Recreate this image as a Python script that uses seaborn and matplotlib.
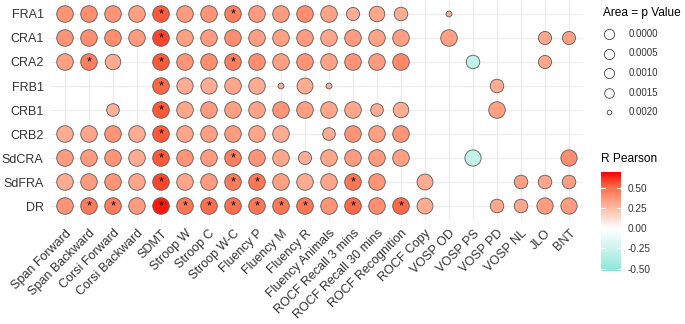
import numpy as np
import pandas as pd
import matplotlib
matplotlib.use("Agg")
import matplotlib.pyplot as plt
import seaborn as sns
from matplotlib.colors import LinearSegmentedColormap, Normalize
from matplotlib.cm import ScalarMappable

# rows (clusters) and columns (neuropsychological tests)
clusters = ["FRA1", "CRA1", "CRA2", "FRB1", "CRB1", "CRB2", "SdCRA", "SdFRA", "DR"]
tests = ["Span Forward", "Span Backward", "Corsi Forward", "Corsi Backward", "SDMT",
         "Stroop W", "Stroop C", "Stroop W-C", "Fluency P", "Fluency M", "Fluency R",
         "Fluency Animals", "ROCF Recall 3 mins", "ROCF Recall 30 mins", "ROCF Recognition",
         "ROCF Copy", "VOSP OD", "VOSP PS", "VOSP PD", "VOSP NL", "JLO", "BNT"]

n = np.nan
# Pearson r (nan = not drawn)
r_matrix = [
    [0.38, 0.40, 0.38, 0.34, 0.55, 0.36, 0.38, 0.45, 0.36, 0.36, 0.40, 0.33, 0.30, 0.32, 0.30, n, 0.30, n, n, n, n, n],
    [0.38, 0.40, 0.40, 0.36, 0.58, 0.34, 0.36, 0.40, 0.35, 0.34, 0.36, 0.32, 0.36, 0.33, 0.35, n, 0.34, n, n, n, 0.32, 0.34],
    [0.34, 0.45, 0.30, n, 0.55, 0.38, 0.40, 0.45, 0.40, 0.34, 0.38, 0.33, 0.38, 0.36, 0.42, n, n, -0.30, n, n, 0.32, n],
    [n, n, n, n, 0.52, 0.30, 0.30, 0.32, 0.30, 0.30, 0.30, 0.28, n, n, n, n, n, n, 0.30, n, n, n],
    [n, n, 0.28, n, 0.55, 0.32, 0.36, 0.34, 0.33, 0.38, 0.35, 0.32, 0.32, 0.30, 0.30, n, n, n, 0.34, n, n, n],
    [0.30, 0.32, 0.38, 0.30, 0.55, 0.32, 0.34, 0.36, 0.32, 0.30, n, 0.30, 0.38, 0.34, 0.38, n, n, n, n, n, n, n],
    [0.36, 0.36, 0.38, 0.30, 0.55, 0.38, 0.36, 0.45, 0.38, 0.32, 0.30, 0.32, 0.36, 0.36, 0.34, n, n, -0.28, n, n, n, 0.40],
    [0.30, 0.36, 0.38, 0.32, 0.58, 0.32, 0.36, 0.46, 0.48, 0.34, 0.30, 0.32, 0.48, 0.38, n, 0.30, n, n, n, 0.34, 0.32, 0.35],
    [0.38, 0.46, 0.46, 0.36, 0.66, 0.48, 0.50, 0.50, 0.48, 0.48, 0.48, 0.38, 0.52, 0.40, 0.52, 0.30, n, n, 0.32, 0.32, 0.36, 0.36],
]

# p values (area of circle, smaller p = bigger circle)
p_matrix = [
    [0.00001] * 12 + [0.0009, 0.0003, 0.0008, n, 0.0021, n, n, n, n, n],
    [0.00001] * 15 + [n, 0.00001, n, n, n, 0.0009, 0.0009],
    [0.00001, 0.00001, 0.0003, n] + [0.00001] * 11 + [n, n, 0.0008, n, n, 0.0009, n],
    [n, n, n, n, 0.00001, 0.0001, 0.0001, 0.00001, 0.00001, 0.0021, 0.0002, 0.0021, n, n, n, n, n, n, 0.0008, n, n, n],
    [n, n, 0.001, n] + [0.00001] * 9 + [0.001, 0.0003, n, n, n, 0.00001, n, n, n],
    [0.00001] * 10 + [n, 0.001, 0.00001, 0.00001, 0.00001, n, n, n, n, n, n, n],
    [0.00001] * 10 + [0.0009, 0.00001, 0.00001, 0.00001, 0.00001, n, n, 0.0001, n, n, n, 0.0001],
    [0.00001] * 14 + [n, 0.0002, n, n, n, 0.0008, 0.0008, 0.0008],
    [0.00001] * 15 + [0.0002, n, n, 0.0008, 0.0008, 0.0001, 0.0001],
]

# significance stars (column indices per row)
star_cols = [
    [4, 7],
    [4],
    [1, 4, 7],
    [4],
    [4],
    [4],
    [4, 7],
    [4, 7, 8, 12],
    [1, 2, 4, 5, 6, 7, 8, 9, 10, 12, 14],
]

p_breaks = [0.0000, 0.0005, 0.0010, 0.0015, 0.0020]
r_breaks = [-0.50, -0.25, 0.00, 0.25, 0.50]

# long table
rows = []
for i, cl in enumerate(clusters):
    for j, t in enumerate(tests):
        if not np.isnan(r_matrix[i][j]):
            rows.append({"row": i, "col": j, "r": r_matrix[i][j], "p": p_matrix[i][j],
                         "star": j in star_cols[i]})
df = pd.DataFrame(rows)

sns.set_style("white")
plt.rcParams["font.family"] = ["Liberation Sans", "DejaVu Sans"]

# gradient2 style: turquoise - white - red
cmap = LinearSegmentedColormap.from_list(
    "rpearson",
    [(0.0, "#62DFCE"), (0.25, "#B6EFE6"), (0.5, "#FFFFFF"), (0.625, "#FFCFBF"),
     (0.75, "#FF9E81"), (0.875, "#FF6846"), (1.0, "#FF0000")])
norm = Normalize(-0.7, 0.7)

fig = plt.figure(figsize=(6.85, 3.24), dpi=100)
ax = fig.add_axes([50.6 / 685, 1 - 220.4 / 324, 532.8 / 685, 220.8 / 324])

ax.set_axisbelow(True)
ax.grid(True, color="#EBEBEB", linewidth=0.8)

sns.scatterplot(data=df, x="col", y="row", hue="r", palette=cmap, hue_norm=norm,
                size="p", sizes=(142, 0), size_norm=(0, 0.0024),
                edgecolor="#5A5A5A", linewidth=0.6, legend=False, ax=ax, zorder=3)

for _, d in df[df["star"]].iterrows():
    ax.text(d["col"], d["row"] + 0.02, "*", ha="center", va="center", fontsize=9,
            color="black", zorder=4)

ax.set_xlim(-0.6, 21.6)
ax.set_ylim(8.6, -0.6)
ax.set_xticks(range(len(tests)))
ax.set_xticklabels(tests, rotation=45, ha="right", va="top", rotation_mode="anchor",
                   fontsize=9, color="#333333")
ax.set_yticks(range(len(clusters)))
ax.set_yticklabels(clusters, fontsize=9, color="#333333")
ax.tick_params(axis="both", length=0)
ax.tick_params(axis="y", pad=5)
ax.tick_params(axis="x", pad=5)
ax.set_xlabel("")
ax.set_ylabel("")
for s in ax.spines.values():
    s.set_visible(False)

# size legend
lax = fig.add_axes([0, 0, 1, 1])
lax.set_xlim(0, 685)
lax.set_ylim(324, 0)
lax.axis("off")
lax.text(603, 13, "Area = p Value", fontsize=8.6, va="center", ha="left", color="black")
leg_ms = [7.4, 7.4, 7.3, 6.9, 3.3]
for k, (pb, ms) in enumerate(zip(p_breaks, leg_ms)):
    y = 34 + k * 19.5
    lax.plot([609], [y], marker="o", markersize=ms, markerfacecolor="white",
             markeredgecolor="#444444", markeredgewidth=0.6, linestyle="none")
    lax.text(629, y, f"{pb:.4f}", fontsize=7, va="center", ha="left", color="#333333")
lax.text(601, 159, "R Pearson", fontsize=8.6, va="center", ha="left", color="black")

# colorbar
cax = fig.add_axes([601 / 685, 1 - 271 / 324, 20 / 685, 99 / 324])
sm = ScalarMappable(norm=norm, cmap=cmap)
cb = fig.colorbar(sm, cax=cax, boundaries=np.linspace(-0.53, 0.70, 300), ticks=r_breaks)
cb.outline.set_visible(False)
cb.ax.set_yticklabels([f"{v:.2f}" for v in r_breaks])
cax.tick_params(length=0, labelsize=7.2, pad=5, labelcolor="#333333")
for v in r_breaks:
    cax.plot([0, 0.2], [v, v], color="white", linewidth=0.8)
    cax.plot([0.8, 1], [v, v], color="white", linewidth=0.8)

fig.savefig("out.png", dpi=100)
